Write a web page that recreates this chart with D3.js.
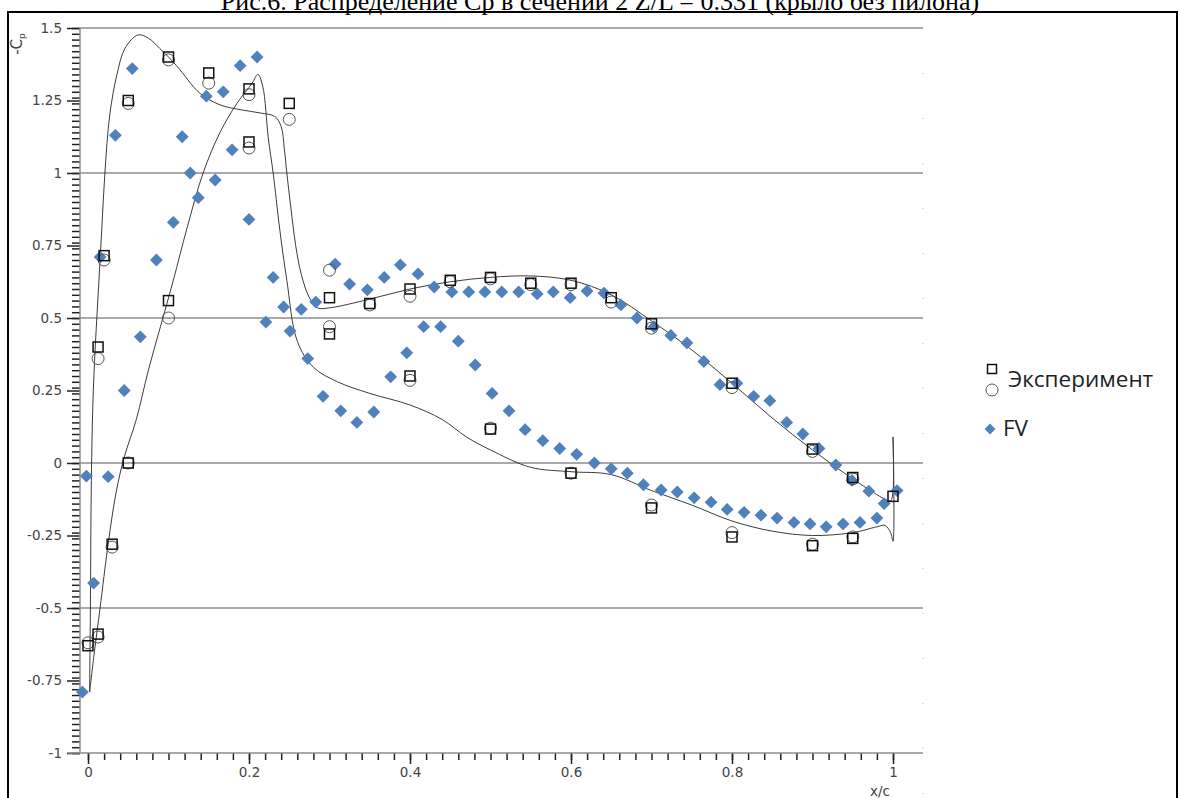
<!DOCTYPE html>
<html>
<head>
<meta charset="utf-8">
<script src="https://cdn.jsdelivr.net/npm/d3@7"></script>
<style>
  body { margin: 0; background: #fff; }
  svg { display: block; }
</style>
</head>
<body>
<div id="chart"></div>
<script>
// experiment, squares
const squareX = [0, 0.0125, 0.0125, 0.02, 0.03, 0.05, 0.05, 0.1, 0.1, 0.15, 0.2, 0.2, 0.25, 0.3, 0.3, 0.35, 0.4, 0.4, 0.45, 0.5, 0.5, 0.55, 0.6, 0.6, 0.65, 0.7, 0.7, 0.8, 0.8, 0.9, 0.9, 0.95, 0.95, 1.0];
const squareY = [-0.63, -0.59, 0.40, 0.715, -0.28, 0.0, 1.25, 1.40, 0.56, 1.345, 1.29, 1.107, 1.24, 0.57, 0.445, 0.55, 0.60, 0.30, 0.63, 0.64, 0.117, 0.62, 0.62, -0.035, 0.57, 0.48, -0.155, 0.275, -0.255, 0.048, -0.285, -0.05, -0.26, -0.115];
// experiment, circles
const circleX = [0, 0.0125, 0.0125, 0.02, 0.03, 0.05, 0.05, 0.1, 0.1, 0.15, 0.2, 0.2, 0.25, 0.3, 0.3, 0.35, 0.4, 0.4, 0.45, 0.5, 0.5, 0.55, 0.6, 0.6, 0.65, 0.7, 0.7, 0.8, 0.8, 0.9, 0.9, 0.95, 0.95];
const circleY = [-0.62, -0.60, 0.36, 0.70, -0.29, 0.0, 1.24, 1.39, 0.50, 1.31, 1.27, 1.086, 1.185, 0.665, 0.47, 0.545, 0.575, 0.285, 0.625, 0.635, 0.12, 0.615, 0.615, -0.035, 0.555, 0.465, -0.145, 0.26, -0.24, 0.04, -0.28, -0.055, -0.255];
// FV
const fvX = [-0.002, -0.007, 0.007, 0.025, 0.015, 0.034, 0.045, 0.055, 0.065, 0.085, 0.106, 0.117, 0.127, 0.137, 0.147, 0.158, 0.168, 0.179, 0.189, 0.2, 0.21, 0.221, 0.23, 0.243, 0.251, 0.265, 0.273, 0.283, 0.292, 0.307, 0.314, 0.325, 0.334, 0.347, 0.355, 0.368, 0.376, 0.388, 0.396, 0.41, 0.417, 0.43, 0.438, 0.452, 0.46, 0.473, 0.481, 0.493, 0.502, 0.514, 0.523, 0.535, 0.543, 0.558, 0.565, 0.578, 0.586, 0.599, 0.607, 0.62, 0.629, 0.641, 0.65, 0.662, 0.67, 0.682, 0.69, 0.703, 0.712, 0.724, 0.732, 0.744, 0.753, 0.765, 0.774, 0.785, 0.794, 0.806, 0.815, 0.827, 0.836, 0.847, 0.856, 0.868, 0.877, 0.888, 0.897, 0.908, 0.917, 0.929, 0.938, 0.949, 0.959, 0.97, 0.98, 0.989, 1.005];
const fvY = [-0.045, -0.79, -0.414, -0.047, 0.71, 1.13, 0.25, 1.36, 0.435, 0.70, 0.83, 1.125, 1.0, 0.915, 1.265, 0.976, 1.28, 1.08, 1.37, 0.84, 1.40, 0.486, 0.64, 0.538, 0.455, 0.53, 0.36, 0.555, 0.23, 0.686, 0.18, 0.617, 0.14, 0.597, 0.176, 0.64, 0.297, 0.683, 0.38, 0.652, 0.47, 0.607, 0.47, 0.59, 0.42, 0.59, 0.338, 0.59, 0.24, 0.59, 0.18, 0.59, 0.115, 0.583, 0.077, 0.59, 0.05, 0.57, 0.03, 0.593, 0.0, 0.586, -0.02, 0.545, -0.035, 0.50, -0.075, 0.47, -0.093, 0.44, -0.1, 0.414, -0.12, 0.35, -0.135, 0.27, -0.16, 0.275, -0.17, 0.23, -0.18, 0.215, -0.19, 0.14, -0.205, 0.10, -0.21, 0.05, -0.22, -0.007, -0.21, -0.06, -0.205, -0.097, -0.19, -0.14, -0.095];
// calculation curve (no legend), upper surface then lower surface
const calcX = [0.002, 0.003, 0.004, 0.006, 0.009, 0.013, 0.017, 0.021, 0.027, 0.036, 0.046, 0.062, 0.075, 0.089, 0.11, 0.139, 0.164, 0.19, 0.214, 0.232, 0.24, 0.244, 0.247, 0.252, 0.258, 0.265, 0.275, 0.285, 0.3, 0.35, 0.4, 0.45, 0.5, 0.55, 0.6, 0.65, 0.7, 0.75, 0.8, 0.85, 0.9, 0.95, 0.975, 0.99, 0.997, 1.0, 1.0, 1.0, 0.997, 0.99, 0.98, 0.95, 0.9, 0.85, 0.8, 0.75, 0.7, 0.65, 0.6, 0.55, 0.5, 0.47, 0.44, 0.4, 0.35, 0.31, 0.28, 0.26, 0.247, 0.238, 0.23, 0.224, 0.217, 0.211, 0.204, 0.185, 0.164, 0.143, 0.123, 0.106, 0.09, 0.075, 0.06, 0.045, 0.035, 0.025, 0.015, 0.008, 0.002];
const calcY = [-0.79, -0.5, -0.1, 0.2, 0.4, 0.6, 0.8, 1.0, 1.2, 1.34, 1.43, 1.476, 1.465, 1.43, 1.37, 1.275, 1.235, 1.218, 1.207, 1.195, 1.16, 1.08, 1.0, 0.88, 0.75, 0.65, 0.57, 0.535, 0.535, 0.565, 0.6, 0.625, 0.64, 0.645, 0.63, 0.58, 0.49, 0.39, 0.275, 0.155, 0.045, -0.055, -0.1, -0.125, -0.13, -0.1, 0.09, -0.27, -0.24, -0.215, -0.22, -0.24, -0.25, -0.235, -0.2, -0.145, -0.095, -0.04, -0.03, -0.015, 0.045, 0.09, 0.15, 0.2, 0.24, 0.28, 0.33, 0.42, 0.63, 0.81, 1.0, 1.12, 1.3, 1.34, 1.31, 1.24, 1.14, 1.0, 0.81, 0.63, 0.47, 0.32, 0.15, 0.02, -0.1, -0.28, -0.5, -0.65, -0.79];

const xTicks = [0, 0.2, 0.4, 0.6, 0.8, 1];
const yTicks = [-1, -0.75, -0.5, -0.25, 0, 0.25, 0.5, 0.75, 1, 1.25, 1.5];
const gridValues = [-0.5, 0, 0.5, 1, 1.5];

const width = 1179;
const height = 798;
const blue = '#4f81bd';
const tickFont = '"DejaVu Sans", Verdana, sans-serif';

const svg = d3.select('#chart').append('svg').attr('width', width).attr('height', height);

// outer frame
svg.append('rect')
  .attr('x', 8).attr('y', 12).attr('width', 1169).attr('height', 800)
  .attr('fill', 'none').attr('stroke', '#000').attr('stroke-width', 2);

// title, cut by the top edge as in the source
svg.append('text')
  .attr('x', 600).attr('y', 10)
  .attr('text-anchor', 'middle')
  .attr('font-family', '"Liberation Serif", "Times New Roman", serif')
  .attr('font-size', 26)
  .text('Рис.6. Распределение Ср в сечении 2 Z/L = 0.331 (крыло без пилона)');

const x = d3.scaleLinear().domain([0, 1]).range([88, 893]);
const y = d3.scaleLinear().domain([-1, 1.5]).range([753, 28]);
const plotLeft = 80;
const plotRight = 923;

// grid
svg.append('g')
  .selectAll('line')
  .data(gridValues)
  .join('line')
  .attr('x1', plotLeft).attr('x2', plotRight)
  .attr('y1', (d) => y(d)).attr('y2', (d) => y(d))
  .attr('stroke', '#8c8c8c').attr('stroke-width', 1.5);

// faint dotted right edge
svg.append('line')
  .attr('x1', plotRight).attr('x2', plotRight).attr('y1', y(1.5)).attr('y2', 798)
  .attr('stroke', '#b8bcd8').attr('stroke-width', 1).attr('stroke-dasharray', '1,44');

// y axis
const yMinor = d3.axisLeft(y).ticks(100).tickSize(8).tickFormat('');
const yMajor = d3.axisLeft(y).tickValues(yTicks).tickSize(13).tickPadding(5).tickFormat((d) => String(d));
const yg1 = svg.append('g').attr('transform', `translate(${plotLeft},0)`).call(yMinor);
const yg2 = svg.append('g').attr('transform', `translate(${plotLeft},0)`).call(yMajor);
[yg1, yg2].forEach((g) => {
  g.select('.domain').remove();
  g.selectAll('line').attr('stroke', '#222').attr('stroke-width', 1.5);
});
yg2.selectAll('text').attr('font-family', tickFont).attr('font-size', 13.5).attr('fill', '#444');

svg.append('line')
  .attr('x1', plotLeft).attr('x2', plotLeft).attr('y1', y(1.5)).attr('y2', y(-1))
  .attr('stroke', '#8c8c8c').attr('stroke-width', 1.5);

// x axis
const xMinor = d3.axisBottom(x).tickValues(d3.range(0, 51).map((i) => i * 0.02)).tickSize(7).tickFormat('');
const xMajor = d3.axisBottom(x).tickValues(xTicks).tickSize(11).tickPadding(3).tickFormat((d) => String(d));
const xg1 = svg.append('g').attr('transform', `translate(0,${y(-1)})`).call(xMinor);
const xg2 = svg.append('g').attr('transform', `translate(0,${y(-1)})`).call(xMajor);
[xg1, xg2].forEach((g) => {
  g.select('.domain').remove();
  g.selectAll('line').attr('stroke', '#222').attr('stroke-width', 1.5);
});
xg2.selectAll('text').attr('font-family', tickFont).attr('font-size', 13.5).attr('fill', '#444');

svg.append('line')
  .attr('x1', plotLeft - 12).attr('x2', plotRight).attr('y1', y(-1)).attr('y2', y(-1))
  .attr('stroke', '#8c8c8c').attr('stroke-width', 1.5);

// axis titles
svg.append('text')
  .attr('x', x(1) - 13).attr('y', 796)
  .attr('text-anchor', 'middle')
  .attr('font-family', tickFont).attr('font-size', 13.5).attr('fill', '#444')
  .text('x/c');

const yTitle = svg.append('text')
  .attr('transform', 'translate(22,44) rotate(-90)')
  .attr('text-anchor', 'middle')
  .attr('font-family', tickFont).attr('font-size', 15).attr('fill', '#444');
yTitle.append('tspan').text('-C');
yTitle.append('tspan').attr('font-size', 9).attr('dy', 3).text('p');

// calculation curve
const calc = calcX.map((v, i) => [v, calcY[i]]);
svg.append('path')
  .datum(calc)
  .attr('fill', 'none')
  .attr('stroke', '#3c3c3c')
  .attr('stroke-width', 1)
  .attr('d', d3.line().x((d) => x(d[0])).y((d) => y(d[1])).curve(d3.curveCatmullRom.alpha(0.5)));

// FV diamonds
const diamond = d3.symbol().type(d3.symbolDiamond2).size(105);
const fv = fvX.map((v, i) => [v, fvY[i]]);
svg.append('g')
  .selectAll('path')
  .data(fv)
  .join('path')
  .attr('transform', (d) => `translate(${x(d[0])},${y(d[1])})`)
  .attr('d', diamond)
  .attr('fill', blue);

// circles
const circles = circleX.map((v, i) => [v, circleY[i]]);
svg.append('g')
  .selectAll('circle')
  .data(circles)
  .join('circle')
  .attr('cx', (d) => x(d[0])).attr('cy', (d) => y(d[1]))
  .attr('r', 6)
  .attr('fill', 'none')
  .attr('stroke', '#555').attr('stroke-width', 1);

// squares
const squares = squareX.map((v, i) => [v, squareY[i]]);
svg.append('g')
  .selectAll('rect')
  .data(squares)
  .join('rect')
  .attr('x', (d) => x(d[0]) - 5).attr('y', (d) => y(d[1]) - 5)
  .attr('width', 10).attr('height', 10)
  .attr('fill', 'none')
  .attr('stroke', '#111').attr('stroke-width', 1.5);

// legend
const legend = svg.append('g').attr('font-family', '"Open Sans", "Noto Sans", sans-serif').attr('font-size', 22.5).attr('fill', '#222');
legend.append('rect').attr('x', 987.5).attr('y', 364.5).attr('width', 9).attr('height', 9)
  .attr('fill', 'none').attr('stroke', '#111').attr('stroke-width', 1.5);
legend.append('circle').attr('cx', 992).attr('cy', 390).attr('r', 6)
  .attr('fill', 'none').attr('stroke', '#555').attr('stroke-width', 1);
legend.append('text').attr('x', 1008).attr('y', 387).text('Эксперимент');
legend.append('path').attr('transform', 'translate(990,429)').attr('d', d3.symbol().type(d3.symbolDiamond2).size(75)).attr('fill', blue);
legend.append('text').attr('x', 1003).attr('y', 436).text('FV');
</script>
</body>
</html>
